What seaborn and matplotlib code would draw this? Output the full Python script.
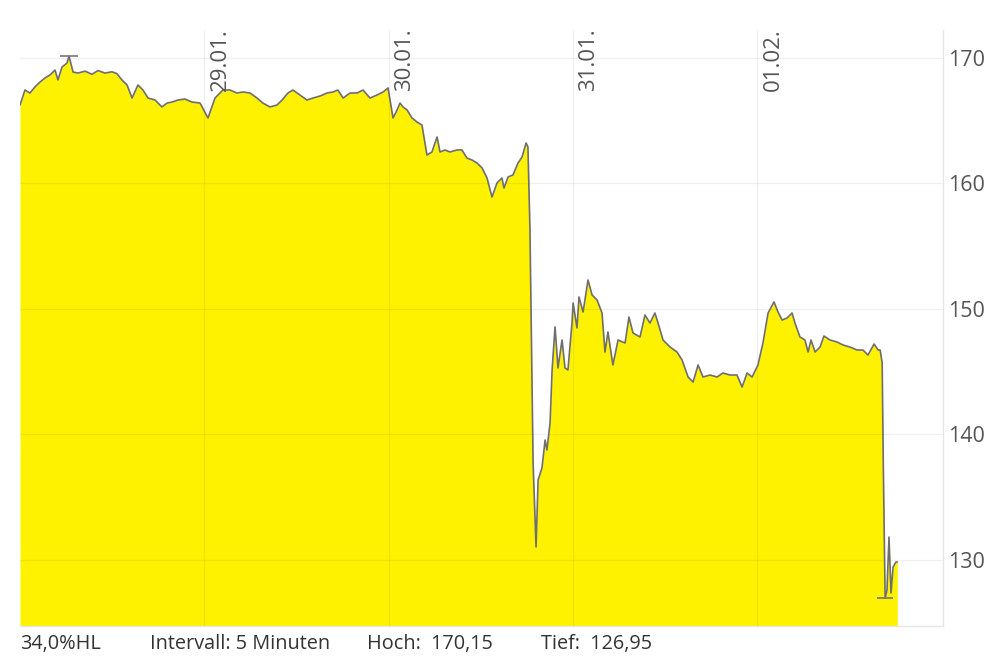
import matplotlib
matplotlib.use("Agg")
import matplotlib.pyplot as plt
import seaborn as sns
import pandas as pd

# Kursverlauf (5-Minuten-Intervall), Zeit in Handelstagen ab 28.01.
t_days = [0.000, 0.027, 0.054, 0.081, 0.109, 0.136, 0.163, 0.190, 0.206, 0.228,
          0.255, 0.266, 0.288, 0.315, 0.353, 0.391, 0.423, 0.461, 0.499, 0.526,
          0.553, 0.581, 0.608, 0.640, 0.667, 0.695, 0.733, 0.770, 0.798, 0.825,
          0.857, 0.895, 0.933, 0.977, 1.020,
          1.058, 1.101, 1.139, 1.177, 1.210, 1.248, 1.286, 1.318, 1.356, 1.394,
          1.422, 1.454, 1.481, 1.519, 1.557, 1.590, 1.628, 1.666, 1.698, 1.725,
          1.753, 1.791, 1.829, 1.861, 1.899, 1.937, 1.970, 1.997, 2.024,
          2.046, 2.062, 2.078, 2.100, 2.127, 2.154, 2.181, 2.208, 2.235, 2.263,
          2.279, 2.306, 2.333, 2.371, 2.398, 2.425, 2.453, 2.480, 2.507, 2.534,
          2.561, 2.588, 2.615, 2.626, 2.648, 2.675, 2.702, 2.724, 2.746, 2.756,
          2.767, 2.784, 2.800, 2.811, 2.832, 2.849, 2.859, 2.876, 2.887, 2.903,
          2.919, 2.941, 2.957, 2.973, 2.995, 3.001,
          3.022, 3.033, 3.055, 3.082, 3.104, 3.131, 3.158, 3.174, 3.190, 3.217,
          3.245, 3.283, 3.304, 3.326, 3.364, 3.391, 3.418, 3.445, 3.462, 3.489,
          3.527, 3.565, 3.592, 3.625, 3.652, 3.679, 3.706, 3.744, 3.782, 3.814,
          3.852, 3.890, 3.918, 3.945, 3.972, 4.004,
          4.031, 4.059, 4.091, 4.113, 4.135, 4.162, 4.189, 4.205, 4.232, 4.259,
          4.276, 4.292, 4.314, 4.341, 4.362, 4.395, 4.433, 4.466, 4.503, 4.542,
          4.574, 4.601, 4.634, 4.656, 4.667, 4.678, 4.684, 4.694, 4.704, 4.715,
          4.726, 4.737, 4.753, 4.760]

price = [166.25, 167.45, 167.21, 167.69, 168.09, 168.41, 168.65, 169.04, 168.25, 169.28,
         169.60, 170.15, 168.88, 168.80, 168.95, 168.70, 169.00, 168.80, 168.90, 168.75,
         168.25, 167.85, 166.81, 167.85, 167.45, 166.81, 166.65, 166.10, 166.41, 166.49,
         166.65, 166.73, 166.49, 166.41, 165.22,
         166.81, 167.45, 167.45, 167.21, 167.29, 167.21, 166.81, 166.41, 166.10, 166.25,
         166.65, 167.21, 167.45, 167.05, 166.65, 166.81, 166.97, 167.21, 167.29, 167.45,
         166.81, 167.21, 167.21, 167.45, 166.81, 167.05, 167.29, 167.61, 165.22,
         165.86, 166.41, 166.10, 165.86, 165.22, 164.90, 164.66, 162.27, 162.51, 163.71,
         162.51, 162.67, 162.51, 162.67, 162.67, 162.03, 161.87, 161.63, 161.24, 160.44,
         158.92, 160.04, 160.44, 159.64, 160.52, 160.68, 161.63, 162.11, 163.23, 162.91,
         156.29, 137.73, 131.04, 136.37, 137.33, 139.56, 138.76, 140.92, 145.14, 148.57,
         145.30, 147.53, 145.30, 145.14, 148.88, 150.48,
         148.49, 150.96, 149.76, 152.31, 151.12, 150.72, 149.68, 146.57, 148.17, 145.54,
         147.53, 147.29, 149.36, 148.09, 147.77, 149.52, 148.88, 149.68, 148.88, 147.53,
         146.97, 146.57, 145.94, 144.58, 144.18, 145.54, 144.58, 144.74, 144.58, 144.90,
         144.74, 144.74, 143.78, 144.90, 144.58, 145.54,
         147.29, 149.68, 150.56, 149.76, 149.12, 149.28, 149.68, 148.88, 147.77, 147.53,
         146.57, 147.53, 146.57, 146.97, 147.85, 147.53, 147.37, 147.13, 146.97, 146.73,
         146.73, 146.33, 147.21, 146.73, 146.73, 145.70, 137.73, 126.95, 127.61, 131.83,
         127.37, 129.44, 129.84, 129.84]

day_ticks = [1, 2, 3, 4]
day_labels = ["29.01.", "30.01.", "31.01.", "01.02."]
y_ticks = [130, 140, 150, 160, 170]

footer = ["34,0%HL", "Intervall: 5 Minuten", "Hoch:  170,15", "Tief:  126,95"]

df = pd.DataFrame({"t": t_days, "kurs": price})

sns.set_style("white")
plt.rcParams["font.family"] = ["Open Sans", "DejaVu Sans"]

fig = plt.figure(figsize=(9.98, 6.65), dpi=100)
ax = fig.add_axes([20 / 998, 1 - 626 / 665, 923 / 998, 596 / 665])

ymin, ymax = 124.74, 172.23
ax.fill_between(df["t"], df["kurs"], ymin, color="#fff200", lw=0, zorder=1)
sns.lineplot(data=df, x="t", y="kurs", ax=ax, color="#6e6e6e", lw=1.2, zorder=4)

# Hoch / Tief Markierung
i_hi = df["kurs"].idxmax()
i_lo = df["kurs"].idxmin()
ax.hlines(df["kurs"][i_hi], df["t"][i_hi] - 0.05, df["t"][i_hi] + 0.05,
          color="#777777", lw=1.2, zorder=5)
ax.hlines(df["kurs"][i_lo], df["t"][i_lo] - 0.045, df["t"][i_lo] + 0.045,
          color="#777777", lw=1.2, zorder=5)

ax.set_xlim(0, 5.008)
ax.set_ylim(ymin, ymax)

for y in y_ticks:
    ax.axhline(y, color="#000000", alpha=0.06, lw=1, zorder=2)
for x in day_ticks:
    ax.axvline(x, color="#000000", alpha=0.06, lw=1, zorder=2)

for x, lab in zip(day_ticks, day_labels):
    ax.text(x + 0.028, 1.003, lab, rotation=90, ha="left", va="top",
            transform=ax.get_xaxis_transform(), fontsize=16, color="#555555",
            zorder=6)

ax.set_xticks([])
ax.yaxis.tick_right()
ax.set_yticks(y_ticks)
ax.set_yticklabels([str(v) for v in y_ticks])
ax.tick_params(axis="y", length=0, pad=3.5, labelsize=15.5, labelcolor="#555555")
ax.set_xlabel("")
ax.set_ylabel("")

for side in ["top", "left"]:
    ax.spines[side].set_visible(False)
for side in ["right", "bottom"]:
    ax.spines[side].set_color("#e6e6e6")
    ax.spines[side].set_linewidth(1)

xs = [20, 150, 367, 541]
for x, s in zip(xs, footer):
    fig.text(x / 998, 1 - 644 / 665, s, ha="left", va="center",
             fontsize=14.3, color="#333333")

fig.savefig("out.png", dpi=100)
